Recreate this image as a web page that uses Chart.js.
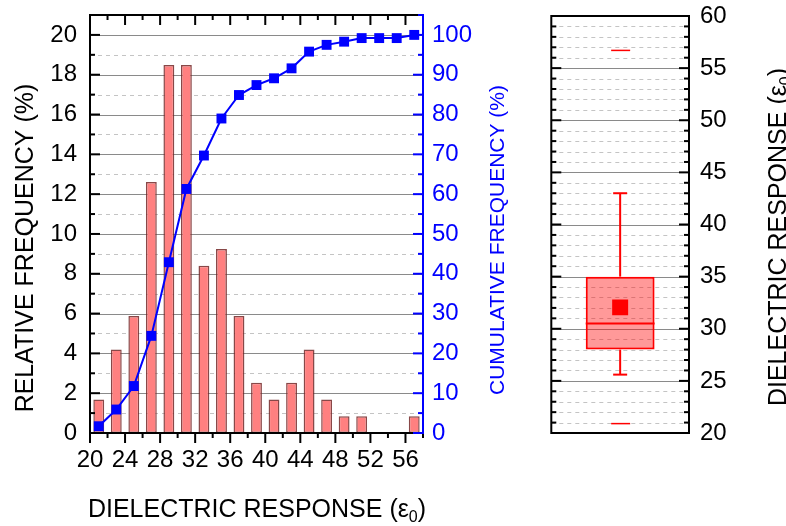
<!DOCTYPE html>
<html><head><meta charset="utf-8">
<script src="https://cdn.jsdelivr.net/npm/chart.js@4"></script>
<style>
html,body{margin:0;padding:0;background:#fff;}
#wrap{position:relative;width:786px;height:526px;overflow:hidden;background:#fff}
#c1{position:absolute;left:0;top:0}
#c2{position:absolute;left:540px;top:0}
</style></head><body>
<div id="wrap">
<canvas id="c1" width="540" height="526"></canvas>
<canvas id="c2" width="246" height="526"></canvas>
</div>
<script>
// ---------- data ----------
const binCenters = [21,23,25,27,29,31,33,35,37,39,41,43,45,47,49,51,53,55,57];
const relFreq    = [1.68,4.20,5.88,12.61,18.49,18.49,8.40,9.24,5.88,2.52,1.68,2.52,4.20,1.68,0.84,0.84,0,0,0.84];
const cumFreq    = [1.7,5.9,11.8,24.4,42.9,61.3,69.7,79.0,84.9,87.4,89.1,91.6,95.8,97.5,98.3,99.2,99.2,99.2,100];
const xTicks     = [20,24,28,32,36,40,44,48,52,56];
const yLeftTicks = [0,2,4,6,8,10,12,14,16,18,20];
const yRightTicks= [0,10,20,30,40,50,60,70,80,90,100];
const boxTicks   = [20,25,30,35,40,45,50,55,60];
const boxQuartiles = [28, 35];
const boxMedian    = [30.5];
const boxMean      = [32.05];
const boxWhiskers  = [25.6, 43.0];
const boxExtremes  = [20.9, 56.7];

const FONT = "'Liberation Sans', Arial, Helvetica, sans-serif";
Chart.defaults.font.family = FONT;

function line(ctx,x1,y1,x2,y2){ctx.beginPath();ctx.moveTo(x1,y1);ctx.lineTo(x2,y2);ctx.stroke();}
function noPad(s){ s.paddingTop = 0; s.paddingBottom = 0; s.paddingLeft = 0; s.paddingRight = 0; }

function drawSubTitle(ctx, cx, cy, size, rot, color){
  const main = 'DIELECTRIC RESPONSE (\u03b5';
  const sub = '0', end = ')';
  ctx.save();
  ctx.translate(cx, cy);
  if (rot) ctx.rotate(-Math.PI/2);
  ctx.fillStyle = color;
  ctx.textBaseline = 'alphabetic';
  ctx.textAlign = 'left';
  ctx.font = size + 'px ' + FONT;
  const w1 = ctx.measureText(main).width;
  const w3 = ctx.measureText(end).width;
  ctx.font = Math.round(size*0.62) + 'px ' + FONT;
  const w2 = ctx.measureText(sub).width;
  const total = w1 + w2 + w3;
  let x = -total/2;
  const base = size*0.36;
  ctx.font = size + 'px ' + FONT;
  ctx.fillText(main, x, base); x += w1;
  ctx.font = Math.round(size*0.62) + 'px ' + FONT;
  ctx.fillText(sub, x, base + size*0.2); x += w2;
  ctx.font = size + 'px ' + FONT;
  ctx.fillText(end, x, base);
  ctx.restore();
}
function vText(ctx, text, cx, cy, size, color){
  ctx.save();
  ctx.translate(cx, cy);
  ctx.rotate(-Math.PI/2);
  ctx.font = size + 'px ' + FONT;
  ctx.fillStyle = color;
  ctx.textAlign = 'center';
  ctx.textBaseline = 'alphabetic';
  ctx.fillText(text, 0, size*0.36);
  ctx.restore();
}

// ---------- left chart ----------
const leftPlugin = {
  id: 'leftDecor',
  beforeDatasetsDraw(chart){
    const {ctx, chartArea:a, scales:{y}} = chart;
    ctx.save();
    ctx.lineWidth = 1;
    for (let v = 1; v < 21; v++){
      const py = Math.round(y.getPixelForValue(v)) + 0.5;
      if (v % 2){ ctx.setLineDash([4,4]); ctx.strokeStyle = '#c4c4c4'; }
      else { ctx.setLineDash([]); ctx.strokeStyle = '#8a8a8a'; }
      line(ctx, a.left, py, a.right, py);
    }
    ctx.restore();
  },
  afterDatasetsDraw(chart){
    const {ctx, chartArea:a, scales:{x, y, y2}} = chart;
    ctx.save();
    ctx.setLineDash([]);
    ctx.lineWidth = 2;
    ctx.strokeStyle = '#000';
    for (let v = 0; v <= 21; v++){
      const py = y.getPixelForValue(v);
      line(ctx, a.left, py, a.left + (v % 2 ? 5 : 10), py);
    }
    for (let v = 20; v <= 58; v += 2){
      const px = x.getPixelForValue(v);
      const len = ((v - 20) % 4 === 0) ? 10 : 5;
      line(ctx, px, a.top, px, a.top + len);
      line(ctx, px, a.bottom, px, a.bottom + len);
    }
    line(ctx, a.left, a.top - 1, a.left, a.bottom + 1);
    line(ctx, a.left - 1, a.top, a.right, a.top);
    line(ctx, a.left - 1, a.bottom, a.right, a.bottom);
    ctx.strokeStyle = '#0000ff';
    line(ctx, a.right, a.top - 1, a.right, a.bottom + 1);
    for (let v = 0; v <= 105; v += 5){
      const py = y2.getPixelForValue(v);
      line(ctx, a.right, py, a.right - (v % 10 ? 5 : 10), py);
    }
    ctx.restore();
  },
  afterDraw(chart){
    const {ctx} = chart;
    vText(ctx, 'RELATIVE FREQUENCY (%)', 24, 248, 25, '#000');
    vText(ctx, 'CUMULATIVE FREQUENCY (%)', 496, 240, 21, '#0000ff');
    drawSubTitle(ctx, 257, 508, 25, false, '#000');
  }
};

new Chart(document.getElementById('c1'), {
  type: 'bar',
  data: {
    datasets: [
      {
        type: 'line',
        data: binCenters.map((v, i) => ({x: v, y: cumFreq[i]})),
        yAxisID: 'y2', xAxisID: 'x',
        borderColor: '#0000ff', backgroundColor: '#0000ff',
        borderWidth: 2, pointStyle: 'rect', pointRadius: 7, pointHoverRadius: 7,
        pointBorderWidth: 0, tension: 0, order: 0, clip: false
      },
      {
        type: 'bar',
        data: binCenters.map((v, i) => ({x: v, y: relFreq[i]})),
        yAxisID: 'y', xAxisID: 'x',
        backgroundColor: '#ff8080', borderColor: 'rgba(115,40,40,0.85)',
        borderWidth: 1.5, borderSkipped: false,
        barPercentage: 0.62, categoryPercentage: 1, order: 1
      }
    ]
  },
  options: {
    responsive: false, animation: false, events: [],
    layout: {padding: {top: 15, left: 0, right: 0, bottom: 0}},
    plugins: {legend: {display: false}, tooltip: {enabled: false}},
    scales: {
      x: {
        type: 'linear', min: 20, max: 58, offset: false,
        afterBuildTicks: s => { s.ticks = xTicks.map(v => ({value: v})); },
        afterFit: s => { s.height = 93; noPad(s); },
        grid: {display: false, drawTicks: false}, border: {display: false},
        ticks: {font: {size: 24}, color: '#000', padding: 13, maxRotation: 0, autoSkip: false}
      },
      y: {
        type: 'linear', position: 'left', min: 0, max: 21,
        afterBuildTicks: s => { s.ticks = yLeftTicks.map(v => ({value: v})); },
        afterFit: s => { s.width = 90; noPad(s); },
        grid: {display: false, drawTicks: false}, border: {display: false},
        ticks: {font: {size: 24}, color: '#000', padding: 13, autoSkip: false}
      },
      y2: {
        type: 'linear', position: 'right', min: 0, max: 105,
        afterBuildTicks: s => { s.ticks = yRightTicks.map(v => ({value: v})); },
        afterFit: s => { s.width = 117; noPad(s); },
        grid: {display: false, drawTicks: false}, border: {display: false},
        ticks: {font: {size: 24}, color: '#0000ff', padding: 9, autoSkip: false}
      }
    }
  },
  plugins: [leftPlugin]
});

// ---------- right box chart ----------
const boxPlugin = {
  id: 'boxDecor',
  beforeDatasetsDraw(chart){
    const {ctx, chartArea:a, scales:{x, y}} = chart;
    ctx.save();
    ctx.lineWidth = 1;
    for (let v = 21; v < 60; v++){
      const py = Math.round(y.getPixelForValue(v)) + 0.5;
      if (v % 5){ ctx.setLineDash([4,4]); ctx.strokeStyle = '#c4c4c4'; }
      else { ctx.setLineDash([]); ctx.strokeStyle = '#8a8a8a'; }
      line(ctx, a.left, py, a.right, py);
    }
    ctx.setLineDash([]);
    const cx = x.getPixelForValue(0);
    ctx.strokeStyle = '#ff0000';
    ctx.lineWidth = 2;
    line(ctx, cx, y.getPixelForValue(boxQuartiles[1]), cx, y.getPixelForValue(boxWhiskers[1]));
    line(ctx, cx, y.getPixelForValue(boxQuartiles[0]), cx, y.getPixelForValue(boxWhiskers[0]));
    line(ctx, cx - 7, y.getPixelForValue(boxWhiskers[1]), cx + 7, y.getPixelForValue(boxWhiskers[1]));
    line(ctx, cx - 7, y.getPixelForValue(boxWhiskers[0]), cx + 7, y.getPixelForValue(boxWhiskers[0]));
    ctx.lineWidth = 1.5;
    boxExtremes.forEach(v => { const py = y.getPixelForValue(v); line(ctx, cx - 9, py, cx + 10, py); });
    ctx.restore();
  },
  afterDatasetsDraw(chart){
    const {ctx, chartArea:a, scales:{y}} = chart;
    ctx.save();
    const bar = chart.getDatasetMeta(1).data[0];
    const half = bar.width / 2;
    ctx.strokeStyle = '#ff0000';
    ctx.lineWidth = 2;
    const pm = y.getPixelForValue(boxMedian[0]);
    line(ctx, bar.x - half, pm, bar.x + half, pm);
    ctx.strokeStyle = '#000';
    ctx.lineWidth = 2;
    for (let v = 20; v <= 60; v++){
      const py = y.getPixelForValue(v);
      const len = v % 5 ? 5 : 10;
      line(ctx, a.left, py, a.left + len, py);
      line(ctx, a.right, py, a.right - len, py);
    }
    ctx.strokeRect(a.left, a.top, a.right - a.left, a.bottom - a.top);
    ctx.restore();
  },
  afterDraw(chart){
    drawSubTitle(chart.ctx, 777 - 540, 237, 25, true, '#000');
  }
};

new Chart(document.getElementById('c2'), {
  type: 'bar',
  data: {
    labels: [''],
    datasets: [
      {
        type: 'line', data: boxMean, showLine: false,
        pointStyle: 'rect', pointRadius: 11.3, pointHoverRadius: 11.3,
        pointBackgroundColor: '#ff0000', pointBorderWidth: 0, order: 0
      },
      {
        type: 'bar', data: [boxQuartiles],
        backgroundColor: 'rgba(255,0,0,0.4)', borderColor: '#ff0000',
        borderWidth: 2, borderSkipped: false,
        barPercentage: 0.5, categoryPercentage: 1, order: 1
      }
    ]
  },
  options: {
    responsive: false, animation: false, events: [],
    layout: {padding: {top: 16, left: 10, right: 0, bottom: 93}},
    plugins: {legend: {display: false}, tooltip: {enabled: false}},
    scales: {
      x: {display: false, offset: true, afterFit: s => { noPad(s); }},
      y: {
        type: 'linear', position: 'right', min: 20, max: 60,
        afterBuildTicks: s => { s.ticks = boxTicks.map(v => ({value: v})); },
        afterFit: s => { s.width = 97; noPad(s); },
        grid: {display: false, drawTicks: false}, border: {display: false},
        ticks: {font: {size: 24}, color: '#000', padding: 11, autoSkip: false}
      }
    }
  },
  plugins: [boxPlugin]
});
</script>
</body></html>
